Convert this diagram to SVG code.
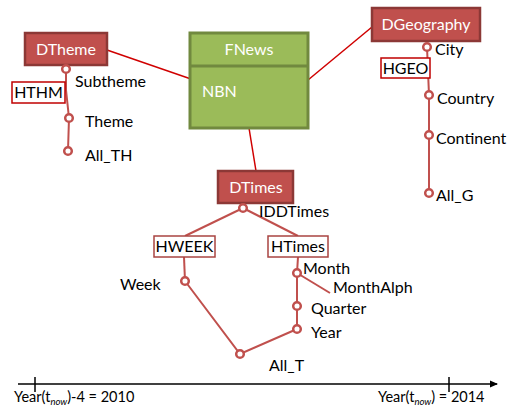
<svg xmlns="http://www.w3.org/2000/svg" width="507" height="407" viewBox="0 0 507 407">
<style>
text{font-family:Lato,"Liberation Sans",sans-serif;font-size:16px;fill:#000}
.dim rect{fill:#c0504d;stroke:#8c3836;stroke-width:2.5}
.dim text{fill:#fff;text-anchor:middle}
.fact rect{fill:#9bbb59;stroke:#71893f;stroke-width:3}
.fact text{fill:#fff}
.hier rect{fill:#fff;stroke:#c00000;stroke-width:1.5}
.hier text{text-anchor:middle}
.lvl circle{fill:#fff;stroke:#c0504d;stroke-width:2.5}
.hl{stroke:#c0504d;stroke-width:2;fill:none}
.rl{stroke:#d00000;stroke-width:1.5;fill:none}
.ax{stroke:#000;stroke-width:1.5;fill:none}
</style>
<defs>
<marker id="arr" markerWidth="8" markerHeight="8" refX="7" refY="4" orient="auto" markerUnits="userSpaceOnUse">
<path d="M0,0.5 L8,4 L0,7.5 Z" fill="#000"/>
</marker>
</defs>
<g id="connectors">
<line class="rl" x1="107" y1="50" x2="191" y2="79"/>
<line class="rl" x1="308" y1="80" x2="372" y2="27"/>
<line class="rl" x1="249" y1="128" x2="256" y2="171"/>
<polyline class="hl" points="66,69 66,90 69,118 68,151"/>
<polyline class="hl" points="427,47 429,95 429,193"/>
<line class="hl" x1="243" y1="208" x2="185" y2="236"/>
<line class="hl" x1="243" y1="208" x2="298" y2="236"/>
<line class="hl" x1="184" y1="257" x2="185" y2="281"/>
<polyline class="hl" points="185,281 240,354 297,329 297,273 298,257"/>
<line class="hl" x1="297" y1="273" x2="330" y2="293"/>
<line class="ax" x1="18" y1="384" x2="497" y2="384" marker-end="url(#arr)"/>
<line class="ax" x1="35" y1="377" x2="35" y2="392"/>
<line class="ax" x1="449" y1="377" x2="449" y2="392"/>
</g>
<g id="FNews" class="fact">
<rect x="190" y="33" width="118" height="95"/>
<line x1="190" y1="66" x2="308" y2="66" stroke="#71893f" stroke-width="3"/>
<text x="249" y="55" text-anchor="middle">FNews</text>
<text x="202" y="97">NBN</text>
</g>
<g id="DTheme" class="dim">
<rect x="25" y="33" width="82" height="32"/>
<text x="66" y="55">DTheme</text>
</g>
<g id="DGeography" class="dim">
<rect x="372" y="8" width="108" height="33"/>
<text x="426" y="30">DGeography</text>
</g>
<g id="DTimes" class="dim">
<rect x="218" y="171" width="75" height="32"/>
<text x="256" y="193">DTimes</text>
</g>
<g id="HTHM" class="hier">
<rect x="12" y="82" width="53" height="21"/>
<text x="38.5" y="98">HTHM</text>
</g>
<g id="HGEO" class="hier">
<rect x="381" y="58" width="49" height="20"/>
<text x="405.5" y="74">HGEO</text>
</g>
<g id="HWEEK" class="hier">
<rect x="154" y="236" width="61" height="21" style="stroke:#a94442"/>
<text x="184.5" y="252">HWEEK</text>
</g>
<g id="HTimes" class="hier">
<rect x="268" y="236" width="60" height="21" style="stroke:#a94442"/>
<text x="298" y="252">HTimes</text>
</g>
<g id="Subtheme" class="lvl"><circle cx="66" cy="69" r="3.8"/><text x="75" y="87">Subtheme</text></g>
<g id="Theme" class="lvl"><circle cx="69" cy="118" r="3.8"/><text x="85" y="127">Theme</text></g>
<g id="All_TH" class="lvl"><circle cx="68" cy="151" r="3.8"/><text x="85" y="161">All_TH</text></g>
<g id="City" class="lvl"><circle cx="427" cy="47" r="3.8"/><text x="435" y="55">City</text></g>
<g id="Country" class="lvl"><circle cx="429" cy="95" r="3.8"/><text x="437" y="104">Country</text></g>
<g id="Continent" class="lvl"><circle cx="429" cy="135" r="3.8"/><text x="436" y="144">Continent</text></g>
<g id="All_G" class="lvl"><circle cx="429" cy="193" r="3.8"/><text x="436" y="201">All_G</text></g>
<g id="IDDTimes" class="lvl"><circle cx="243" cy="208" r="3.8"/><text x="259" y="217">IDDTimes</text></g>
<g id="Week" class="lvl"><circle cx="185" cy="281" r="3.8"/><text x="120" y="290">Week</text></g>
<g id="Month" class="lvl"><circle cx="297" cy="273" r="3.8"/><text x="303" y="274">Month</text></g>
<g id="MonthAlph"><text x="333" y="293">MonthAlph</text></g>
<g id="Quarter" class="lvl"><circle cx="297" cy="306" r="3.8"/><text x="311" y="314">Quarter</text></g>
<g id="Year" class="lvl"><circle cx="297" cy="329" r="3.8"/><text x="311" y="338">Year</text></g>
<g id="All_T" class="lvl"><circle cx="240" cy="354" r="3.8"/><text x="269" y="371">All_T</text></g>
<g id="axis-labels">
<text x="14" y="402" style="font-size:14.5px">Year(t<tspan font-size="9.5" font-style="italic" dy="3">now</tspan><tspan dy="-3">)-4 = 2010</tspan></text>
<text x="378" y="402" style="font-size:14.5px">Year(t<tspan font-size="9.5" font-style="italic" dy="3">now</tspan><tspan dy="-3">) = 2014</tspan></text>
</g>
</svg>
